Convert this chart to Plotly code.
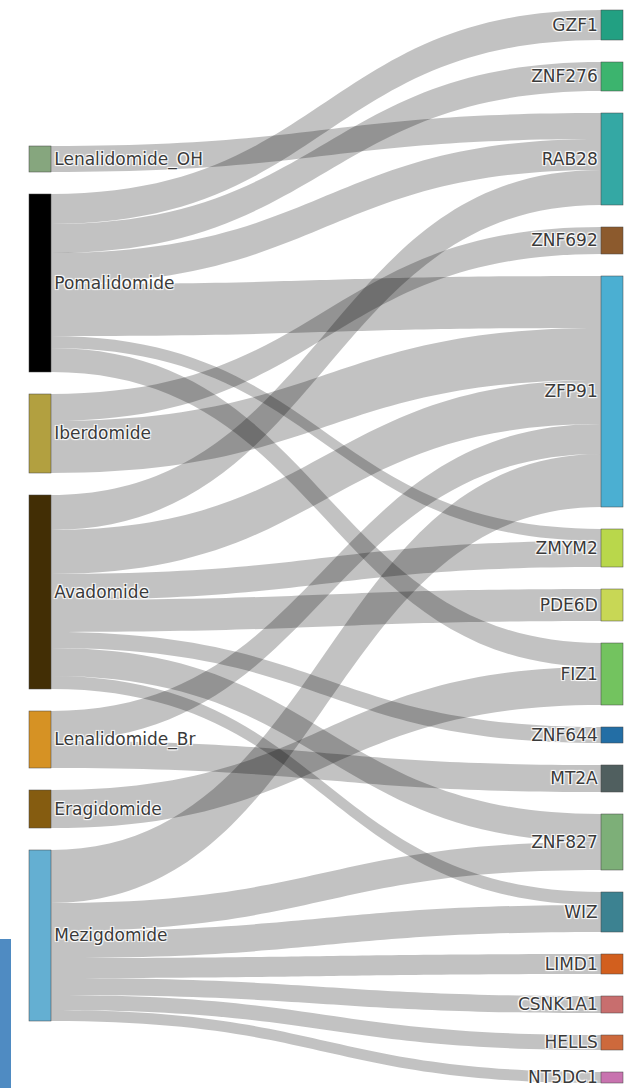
import plotly.graph_objects as go

# Nodes
sources_names = ["Lenalidomide_OH", "Pomalidomide", "Iberdomide", "Avadomide",
                 "Lenalidomide_Br", "Eragidomide", "Mezigdomide"]
target_names = ["GZF1", "ZNF276", "RAB28", "ZNF692", "ZFP91", "ZMYM2", "PDE6D",
                "FIZ1", "ZNF644", "MT2A", "ZNF827", "WIZ", "LIMD1", "CSNK1A1",
                "HELLS", "NT5DC1"]
source_colors = ["#86a67e", "#000000", "#b2a040", "#422e05", "#d69224", "#855c10", "#64afd2"]
target_colors = ["#22a082", "#3cb46e", "#34a8a4", "#8c5a2d", "#4bafd2", "#b9d74b", "#c8d755",
                 "#73c35f", "#236ea5", "#505f5f", "#7daf78", "#3c8291", "#d25f1e", "#c86e6e",
                 "#cd693c", "#c873af"]

# Links (source, target, value)
link_src = ["Lenalidomide_OH",
            "Pomalidomide", "Pomalidomide", "Pomalidomide", "Pomalidomide", "Pomalidomide", "Pomalidomide",
            "Iberdomide", "Iberdomide",
            "Avadomide", "Avadomide", "Avadomide", "Avadomide", "Avadomide", "Avadomide", "Avadomide",
            "Lenalidomide_Br", "Lenalidomide_Br",
            "Eragidomide",
            "Mezigdomide", "Mezigdomide", "Mezigdomide", "Mezigdomide", "Mezigdomide", "Mezigdomide", "Mezigdomide"]
link_tgt = ["RAB28",
            "GZF1", "ZNF276", "RAB28", "ZFP91", "ZMYM2", "FIZ1",
            "ZNF692", "ZFP91",
            "RAB28", "ZFP91", "ZMYM2", "PDE6D", "ZNF644", "ZNF827", "WIZ",
            "ZFP91", "MT2A",
            "FIZ1",
            "ZFP91", "ZNF827", "WIZ", "LIMD1", "CSNK1A1", "HELLS", "NT5DC1"]
link_val = [26,
            30, 29, 31, 52, 12, 24,
            27, 52,
            35, 44, 26, 32, 16, 28, 13,
            30, 27,
            38,
            53, 28, 27, 20, 17, 15, 11]

labels = sources_names + target_names
colors = source_colors + target_colors
idx = {n: i for i, n in enumerate(labels)}

# Figure geometry
FIG_W, FIG_H = 637, 1088
M_L, M_R, M_T, M_B = 29, 14, 10, 5
NODE_PAD, NODE_THICK = 22, 22
plot_w = FIG_W - M_L - M_R
plot_h = FIG_H - M_T - M_B

# Keep the target column in the listed order: stack targets from their totals
tgt_tot = [sum(v for t, v in zip(link_tgt, link_val) if t == name) for name in target_names]
total = sum(tgt_tot)
ky = (plot_h - (len(target_names) - 1) * NODE_PAD) / total
node_x = [None] * len(sources_names)
node_y = [None] * len(sources_names)
cum = 0.0
for i, v in enumerate(tgt_tot):
    centre = cum * ky + i * NODE_PAD + v * ky / 2
    node_x.append(1 - (NODE_THICK / 2) / plot_w)
    node_y.append(centre / plot_h)
    cum += v

fig = go.Figure(go.Sankey(
    arrangement="snap",
    node=dict(
        label=labels,
        color=colors,
        pad=NODE_PAD,
        thickness=NODE_THICK,
        line=dict(color="#444", width=0.5),
        x=node_x,
        y=node_y,
    ),
    link=dict(
        source=[idx[s] for s in link_src],
        target=[idx[t] for t in link_tgt],
        value=link_val,
        color="rgba(0,0,0,0.24)",
    ),
    textfont=dict(family="DejaVu Sans", size=17, color="#3a3a3a"),
))

# decorative blue bar at bottom-left edge
fig.add_shape(type="rect", xref="paper", yref="paper",
              x0=-M_L / plot_w, x1=(11 - M_L) / plot_w,
              y0=-0.02, y1=(FIG_H - M_B - 939) / plot_h,
              fillcolor="#4f8bc2", line=dict(width=0), layer="below")

fig.update_layout(
    width=FIG_W, height=FIG_H,
    margin=dict(l=M_L, r=M_R, t=M_T, b=M_B),
    paper_bgcolor="white", plot_bgcolor="white",
    showlegend=False,
)
fig.write_html("out.html", config={"displayModeBar": False},
               post_script="document.body.style.margin='0';")
